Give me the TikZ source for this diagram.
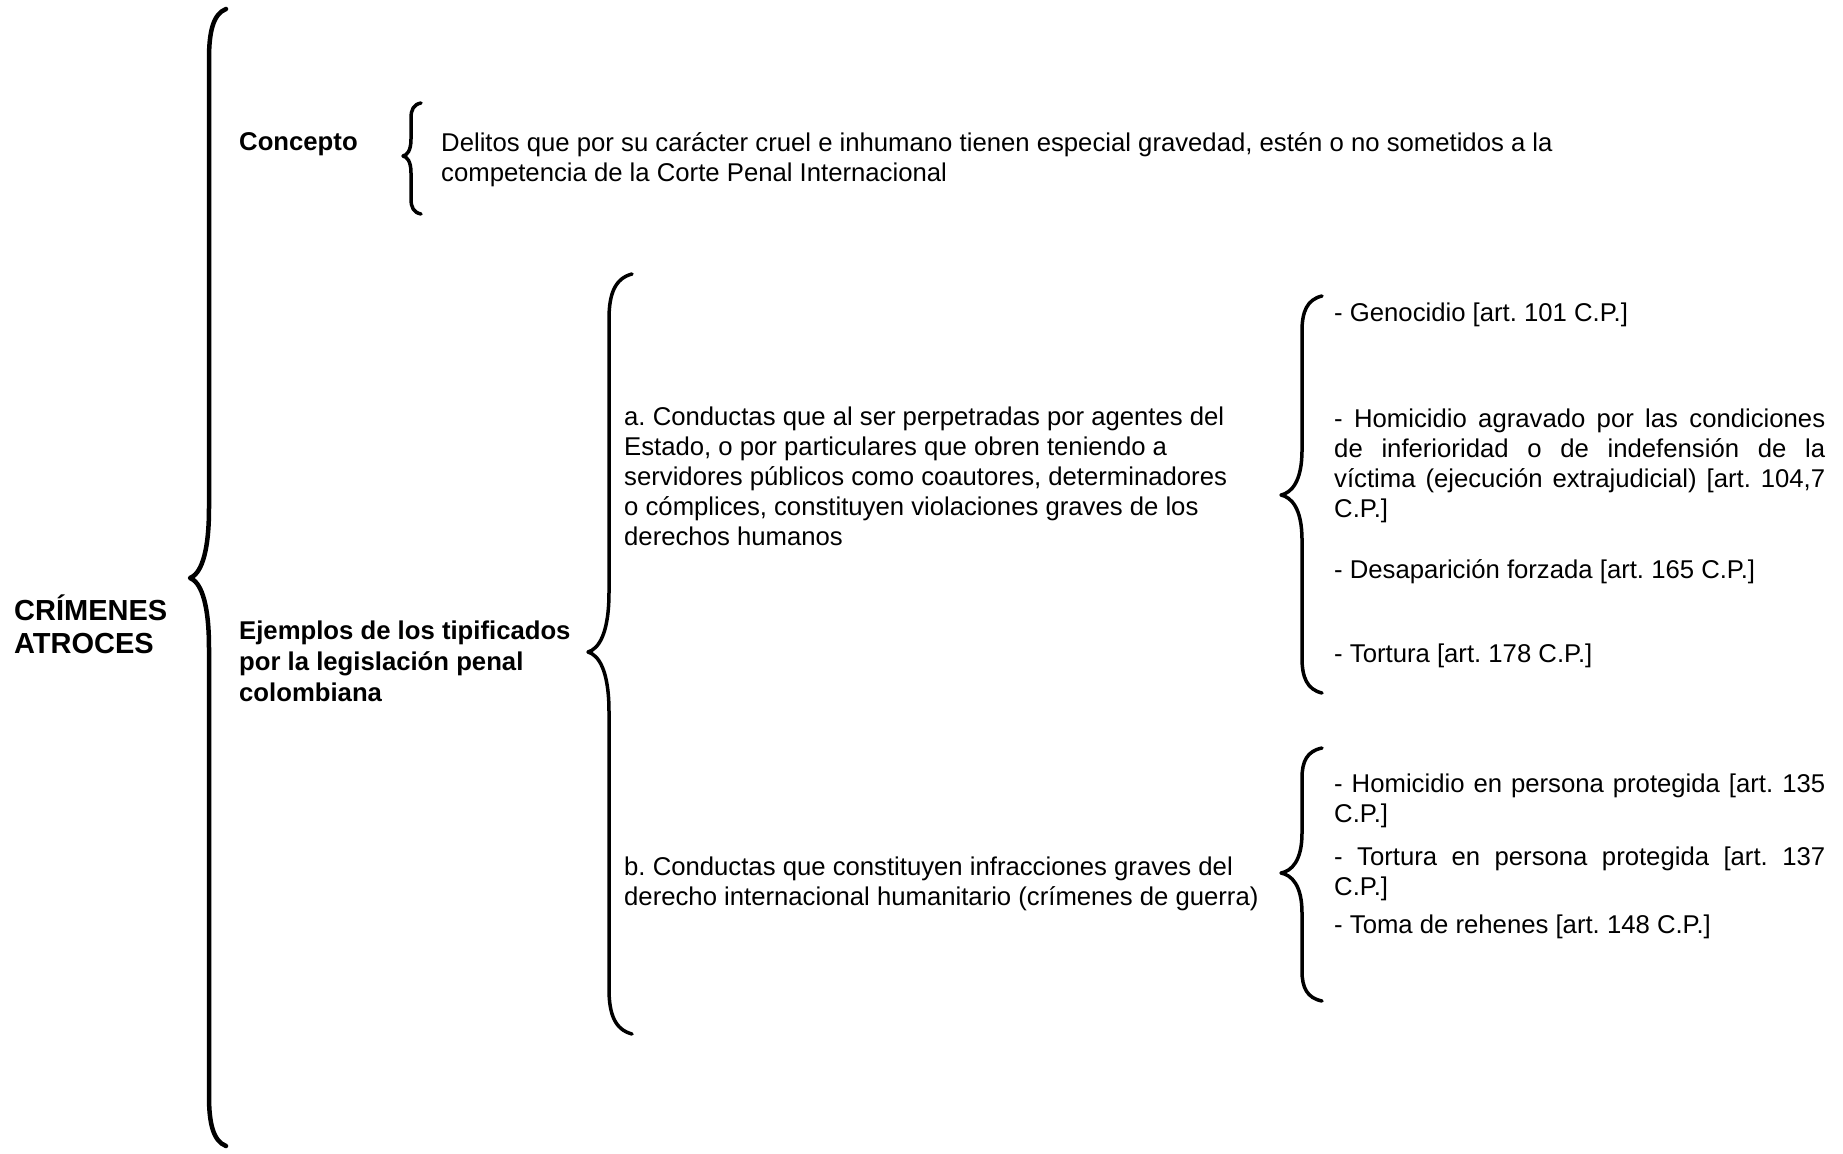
\documentclass[tikz,border=0pt]{standalone}
\usepackage{fontspec}
\setmainfont{Liberation Sans}
\frenchspacing
\newcommand\mybrace[9]{%
  \draw[line width=#1pt, line cap=round, line join=round]
    (#2,#5) .. controls ({#3+0.25*(#2-#3)},{#5+0.1*#8}) and (#3,{#5+0.45*#8}) .. (#3,{#5+#8})
    -- (#3,{#6-#9})
    .. controls (#3,{#6-0.3*#9}) and ({#4+0.5*(#3-#4)},{#6-0.05*#9}) .. (#4,#6)
    .. controls ({#4+0.5*(#3-#4)},{#6+0.05*#9}) and (#3,{#6+0.3*#9}) .. (#3,{#6+#9})
    -- (#3,{#7-#8})
    .. controls (#3,{#7-0.45*#8}) and ({#3+0.25*(#2-#3)},{#7-0.1*#8}) .. (#2,#7);
}
\begin{document}
\frenchspacing
\begin{tikzpicture}[x=1pt,y=-1pt,
  txt/.style={inner sep=0pt, anchor=base west, align=left, font=\frenchspacing\fontsize{25.7}{30}\selectfont},
  bold/.style={txt, font=\frenchspacing\fontsize{25.7}{31}\selectfont\bfseries},
  title/.style={txt, font=\fontsize{29}{33}\selectfont\bfseries}]
\useasboundingbox[fill=white] (0,0) rectangle (1843,1153);

% braces
\mybrace{4.5}{226}{209}{190}{9}{578}{1146}{50}{70}
\mybrace{3.5}{421}{411}{403}{103}{156}{214}{15}{17}
\mybrace{3.5}{632}{609}{588}{274}{652}{1034}{45}{60}
\mybrace{3.5}{1322}{1302}{1281}{296}{495}{693}{35}{45}
\mybrace{3.5}{1322}{1302}{1281}{748}{873}{1001}{30}{40}

% texts (multi-line nodes are placed by the baseline of their last line)
\node[title] (root) at (14,653) {CRÍMENES\\ATROCES};
\node[bold] (concepto) at (239,150) {Concepto};
\node[txt] (def) at (441,181) {Delitos que por su carácter cruel e inhumano tienen especial gravedad, estén o no sometidos a la\\competencia de la Corte Penal Internacional};
\node[bold] (ejemplos) at (239,701) {Ejemplos de los tipificados\\por la legislación penal\\colombiana};
\node[txt] (a) at (624,545) {a. Conductas que al ser perpetradas por agentes del\\Estado, o por particulares que obren teniendo a\\servidores públicos como coautores, determinadores\\o cómplices, constituyen violaciones graves de los\\derechos humanos};
\node[txt] (b) at (624,905) {b. Conductas que constituyen infracciones graves del\\derecho internacional humanitario (crímenes de guerra)};

\node[txt] (a1) at (1334,321) {- Genocidio [art. 101 C.P.]};
\node[txt] (a2) at (1334,517) {\makebox[491pt][s]{- Homicidio agravado por las condiciones}\\\makebox[491pt][s]{de inferioridad o de indefensión de la}\\\makebox[491pt][s]{víctima (ejecución extrajudicial) [art. 104,7}\\C.P.]};
\node[txt] (a3) at (1334,578) {- Desaparición forzada [art. 165 C.P.]};
\node[txt] (a4) at (1334,662) {- Tortura [art. 178 C.P.]};

\node[txt] (b1) at (1334,822) {\makebox[491pt][s]{- Homicidio en persona protegida [art. 135}\\C.P.]};
\node[txt] (b2) at (1334,895) {\makebox[491pt][s]{- Tortura en persona protegida [art. 137}\\C.P.]};
\node[txt] (b3) at (1334,933) {- Toma de rehenes [art. 148 C.P.]};
\end{tikzpicture}
\end{document}
